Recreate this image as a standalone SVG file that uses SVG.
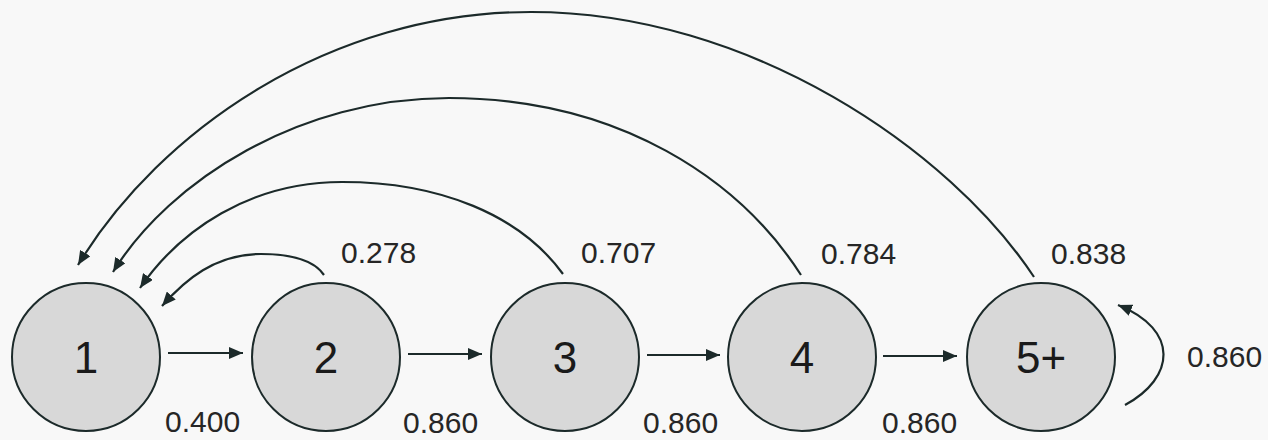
<svg xmlns="http://www.w3.org/2000/svg" width="1268" height="440" viewBox="0 0 1268 440">
<style>
.node circle{fill:#d8d8d8;stroke:#1c2a2a;stroke-width:2}
.node text{font-family:"Liberation Sans",Arial,sans-serif;font-size:44px;fill:#1a1a1a;text-anchor:middle}
.lbl{font-family:"Liberation Sans",Arial,sans-serif;font-size:30px;fill:#262626}
.edge{fill:none;stroke:#1c2a2a;stroke-width:2.2}
</style>
<defs>
<marker id="ah" markerUnits="userSpaceOnUse" markerWidth="16" markerHeight="12" refX="14" refY="6" orient="auto">
<path d="M0,0 L14,6 L0,12 Z" fill="#1c2a2a"/>
</marker>
</defs>
<rect width="1268" height="440" fill="#f8f8f8"/>
<g id="connectors">
<path class="edge" marker-end="url(#ah)" d="M168,353 L243,353"/>
<path class="edge" marker-end="url(#ah)" d="M408,354 L482,354"/>
<path class="edge" marker-end="url(#ah)" d="M647,355 L720,355"/>
<path class="edge" marker-end="url(#ah)" d="M883,356 L957,356"/>
<path class="edge" marker-end="url(#ah)" d="M324,275 C315,262 295,254 261,254 C215,254 185,280 162,306"/>
<path class="edge" marker-end="url(#ah)" d="M563,274 C520,215 440,182 342,182 C250,182 180,230 140,288"/>
<path class="edge" marker-end="url(#ah)" d="M801,275 C740,180 620,98 449,98 C300,98 170,180 113,272"/>
<path class="edge" marker-end="url(#ah)" d="M1034,277 C950,150 750,12 531,12 C330,12 160,130 78,265"/>
<path class="edge" marker-end="url(#ah)" d="M1125,405 C1175,378 1180,330 1118,305"/>
</g>
<g id="node1" class="node"><circle cx="86" cy="357" r="74"/><text x="86" y="373">1</text></g>
<g id="node2" class="node"><circle cx="326" cy="357" r="74"/><text x="326" y="373">2</text></g>
<g id="node3" class="node"><circle cx="565" cy="357" r="74"/><text x="565" y="373">3</text></g>
<g id="node4" class="node"><circle cx="802" cy="357" r="74"/><text x="802" y="373">4</text></g>
<g id="node5" class="node"><circle cx="1041" cy="357" r="74"/><text x="1041" y="373">5+</text></g>
<g id="labels">
<text class="lbl" x="165" y="432">0.400</text>
<text class="lbl" x="403" y="433">0.860</text>
<text class="lbl" x="643" y="433">0.860</text>
<text class="lbl" x="882" y="433">0.860</text>
<text class="lbl" x="1187" y="367">0.860</text>
<text class="lbl" x="341" y="263">0.278</text>
<text class="lbl" x="581" y="263">0.707</text>
<text class="lbl" x="821" y="264">0.784</text>
<text class="lbl" x="1051" y="264">0.838</text>
</g>
</svg>
